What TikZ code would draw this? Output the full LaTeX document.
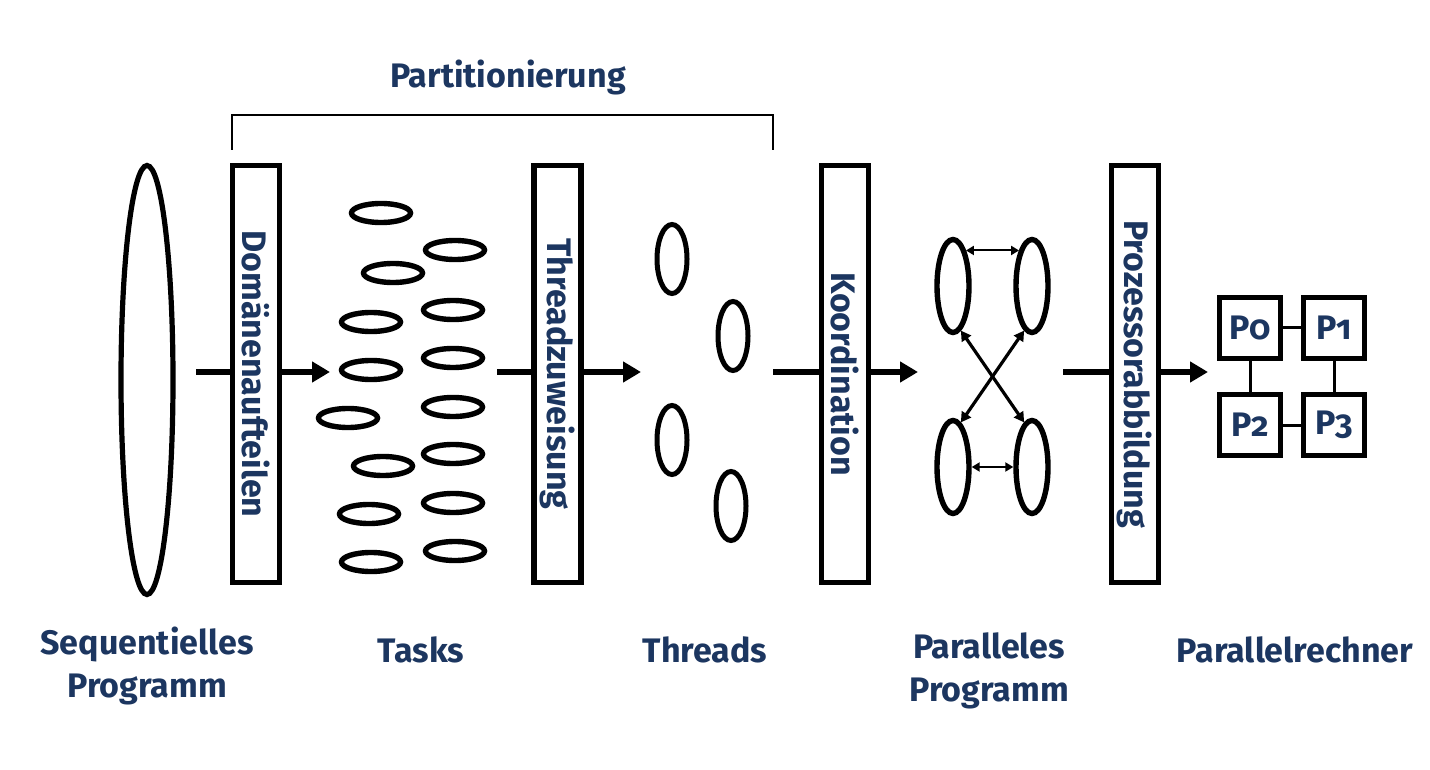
\documentclass[tikz,border=0pt]{standalone}
\usepackage{fontspec}
\setmainfont{Fira Sans}[Numbers=OldStyle]
\usetikzlibrary{shapes.geometric,arrows.meta}
\definecolor{navy}{RGB}{28,54,96}
\begin{document}
\begin{tikzpicture}[x=0.5pt,y=-0.5pt,
  lbl/.style={font=\fontsize{17}{21.5}\selectfont\bfseries, text=navy, align=center, inner sep=0pt},
  stagebox/.style={draw, line width=2.6pt, fill=white, minimum width=23.5pt, minimum height=208.5pt, inner sep=0pt},
  boxtext/.style={lbl, rotate=-90},
  task/.style={draw, ellipse, line width=2.7pt, minimum width=29.5pt, minimum height=9.5pt, inner sep=0pt},
  thr/.style={draw, ellipse, line width=2.5pt, minimum width=15pt, minimum height=34.5pt, inner sep=0pt},
  par/.style={draw, ellipse, line width=2.7pt, minimum width=16pt, minimum height=46.5pt, inner sep=0pt},
  proc/.style={draw, line width=2.6pt, minimum size=30.5pt, inner sep=0pt, lbl},
  flow/.style={line width=2.6pt},
  flowarrow/.style={line width=2.6pt, -{Triangle[length=9pt,width=10pt]}},
  comm/.style={line width=1pt, {Triangle[length=4pt,width=4.5pt]}-{Triangle[length=4pt,width=4.5pt]}},
  cross/.style={line width=1.6pt, {Triangle[length=5pt,width=5.5pt]}-{Triangle[length=5pt,width=5.5pt]}},
  link/.style={line width=1.5pt}
]
\useasboundingbox (0,0) rectangle (1430,770);

% sequential program
\node[draw, ellipse, line width=2.6pt, minimum width=26pt, minimum height=214.5pt, inner sep=0pt] (seq) at (147,380) {};

% flow coordinates
\coordinate (a1s) at (196,372);
\coordinate (a1e) at (330,372);
\coordinate (a2s) at (497,372);
\coordinate (a2e) at (641,372);
\coordinate (a3s) at (773,372);
\coordinate (a3e) at (918,372);
\coordinate (a4s) at (1063,372);
\coordinate (a4e) at (1208,372);

% stage boxes
\node[stagebox] (b1) at (256,374) {};
\node[stagebox] (b2) at (557.5,374) {};
\node[stagebox] (b3) at (845,374) {};
\node[stagebox] (b4) at (1135,374) {};
\node[boxtext] (t1) at (b1.center) {Domänenaufteilen};
\node[boxtext] (t2) at (b2.center) {Threadzuweisung};
\node[boxtext] (t3) at (b3.center) {Koordination};
\node[boxtext] (t4) at (b4.center) {Prozessorabbildung};

% flow arrows
\draw[flow] (a1s) -- (b1.west |- a1s);
\draw[flowarrow] (b1.east |- a1s) -- (a1e);
\draw[flow] (a2s) -- (b2.west |- a2s);
\draw[flowarrow] (b2.east |- a2s) -- (a2e);
\draw[flow] (a3s) -- (b3.west |- a3s);
\draw[flowarrow] (b3.east |- a3s) -- (a3e);
\draw[flow] (a4s) -- (b4.west |- a4s);
\draw[flowarrow] (b4.east |- a4s) -- (a4e);

% partition bracket
\coordinate (br1) at (232,150);
\coordinate (br2) at (773,150);
\draw[line width=1pt] (br1) -- ++(0,-35) -| (br2);
\node[lbl] (part) at (508,77) {Partitionierung};

% tasks
\node[task] (k1) at (381,213) {};
\node[task] (k2) at (393,273) {};
\node[task] (k3) at (371,322) {};
\node[task] (k4) at (371,370) {};
\node[task] (k5) at (348,418) {};
\node[task] (k6) at (383,466) {};
\node[task] (k7) at (369,514) {};
\node[task] (k8) at (371,562) {};
\node[task] (k9) at (455,250) {};
\node[task] (k10) at (453,310) {};
\node[task] (k11) at (453,358) {};
\node[task] (k12) at (453,407) {};
\node[task] (k13) at (453,454) {};
\node[task] (k14) at (453,503) {};
\node[task] (k15) at (455,551) {};

% threads
\node[thr] (h1) at (672,259) {};
\node[thr] (h2) at (733,336) {};
\node[thr] (h3) at (672,440) {};
\node[thr] (h4) at (731,506) {};

% parallel program
\node[par] (tl) at (953,286) {};
\node[par] (tr) at (1032,286) {};
\node[par] (bl) at (953,467) {};
\node[par] (br) at (1032,467) {};
\draw[comm] (tl.70) -- (tr.110);
\draw[comm] (bl.east) -- (br.west);
\draw[cross] (tl.-80) -- (br.100);
\draw[cross] (tr.-100) -- (bl.80);

% parallel computer
\node[proc] (p0) at (1250,328) {P0};
\node[proc] (p1) at (1334,328) {P1};
\node[proc] (p2) at (1250,425) {P2};
\node[proc] (p3) at (1334,425) {P3};
\draw[link] (p0) -- (p1);
\draw[link] (p2) -- (p3);
\draw[link] (p0) -- (p2);
\draw[link] (p1) -- (p3);

% labels
\node[lbl] (lseq) at (147,666) {Sequentielles\\Programm};
\node[lbl] (ltask) at (421,650) {Tasks};
\node[lbl] (lthr) at (705,650) {Threads};
\node[lbl] (lpar) at (989,671) {Paralleles\\Programm};
\node[lbl] (lrech) at (1295,650) {Parallelrechner};
\end{tikzpicture}
\end{document}
